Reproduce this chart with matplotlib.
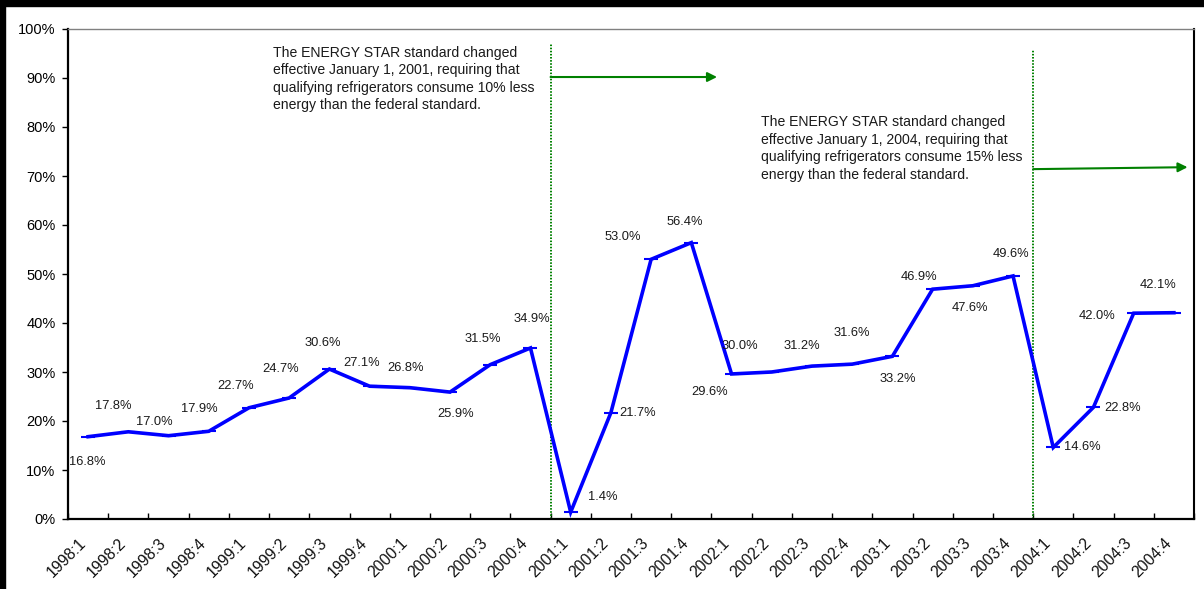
import matplotlib
matplotlib.use("Agg")
import matplotlib.pyplot as plt
from matplotlib.patches import Rectangle
from matplotlib.transforms import ScaledTranslation

plt.rcParams['font.family'] = ['Liberation Sans', 'DejaVu Sans']

quarters = ["1998:1", "1998:2", "1998:3", "1998:4",
            "1999:1", "1999:2", "1999:3", "1999:4",
            "2000:1", "2000:2", "2000:3", "2000:4",
            "2001:1", "2001:2", "2001:3", "2001:4",
            "2002:1", "2002:2", "2002:3", "2002:4",
            "2003:1", "2003:2", "2003:3", "2003:4",
            "2004:1", "2004:2", "2004:3", "2004:4"]
share = [16.8, 17.8, 17.0, 17.9,
         22.7, 24.7, 30.6, 27.1,
         26.8, 25.9, 31.5, 34.9,
         1.4, 21.7, 53.0, 56.4,
         29.6, 30.0, 31.2, 31.6,
         33.2, 46.9, 47.6, 49.6,
         14.6, 22.8, 42.0, 42.1]
note_2001 = ("The ENERGY STAR standard changed\n"
             "effective January 1, 2001, requiring that\n"
             "qualifying refrigerators consume 10% less\n"
             "energy than the federal standard.")
note_2004 = ("The ENERGY STAR standard changed\n"
             "effective January 1, 2004, requiring that\n"
             "qualifying refrigerators consume 15% less\n"
             "energy than the federal standard.")

# label offsets in pixels (dx right, dy down) relative to each point
label_offsets = [(-1, 25), (-15, -26), (-14, -14), (-9, -22),
                 (-13, -22), (-9, -29), (-7, -26), (-8, -23),
                 (-4, -20), (6, 22), (-7, -26), (1, -29),
                 (32, -15), (27, 0), (-28, -22), (-7, -21),
                 (-22, 18), (-32, -26), (-10, -20), (0, -31),
                 (5, 23), (-14, -12), (-3, 22), (-2, -22),
                 (29, 0), (29, 1), (-37, 3), (-16, -28)]

fig = plt.figure(figsize=(12.04, 5.89), dpi=100)
ax = fig.add_axes([68/1204, 1 - 519/589, (1194 - 68)/1204, (519 - 29)/589])

x = list(range(len(quarters)))
blue = '#0000FF'
green = '#008000'
ax.plot(x, share, color=blue, lw=2.6, marker='_', ms=10, mew=1.5,
        solid_joinstyle='miter', zorder=3)

for xi, v, (dx, dy) in zip(x, share, label_offsets):
    ax.annotate(f"{v:.1f}%", (xi, v), xytext=(dx, -dy), textcoords='offset pixels',
                ha='center', va='center', fontsize=9.3, color='#1a1a1a')

ax.set_xlim(-0.5, len(quarters) - 0.5)
ax.set_ylim(0, 100)

# boundary ticks pointing inside, labels at category centres
ax.set_xticks([i - 0.5 for i in range(len(quarters) + 1)])
ax.set_xticklabels([])
ax.tick_params(axis='x', which='major', direction='in', length=4, width=1, color='black')
ax.set_xticks(x, minor=True)
ax.set_xticklabels(quarters, minor=True, rotation=45, ha='right', va='top',
                   rotation_mode='anchor', fontsize=11.3, color='#111111')
ax.tick_params(axis='x', which='minor', length=0, pad=12)
for lab in ax.get_xticklabels(minor=True):
    lab.set_transform(lab.get_transform() + ScaledTranslation(-10/100, 0, fig.dpi_scale_trans))

ax.set_yticks(range(0, 101, 10))
ax.set_yticklabels([f"{t}%" for t in range(0, 101, 10)], fontsize=10.5)
ax.tick_params(axis='y', direction='out', length=4, width=1, pad=5)

for s in ['left', 'bottom']:
    ax.spines[s].set_linewidth(1.6)
    ax.spines[s].set_color('black')
ax.spines['top'].set_color('#808080')
ax.spines['top'].set_linewidth(1.0)
ax.spines['right'].set_color('black')
ax.spines['right'].set_linewidth(1.5)

# vertical standard-change lines
ax.plot([11.5, 11.5], [0, 97.1], color=green, lw=1.4, ls=(0, (0.8, 0.8)), zorder=2)
ax.plot([23.5, 23.5], [0, 95.7], color=green, lw=1.4, ls=(0, (0.8, 0.8)), zorder=2)

# arrows
ax.annotate("", xy=(15.64, 90.2), xytext=(11.5, 90.2),
            arrowprops=dict(arrowstyle='-|>', color=green, lw=1.5,
                            mutation_scale=14, shrinkA=0, shrinkB=0))
ax.annotate("", xy=(27.34, 71.8), xytext=(23.5, 71.4),
            arrowprops=dict(arrowstyle='-|>', color=green, lw=1.5,
                            mutation_scale=14, shrinkA=0, shrinkB=0))

ax.text(4.60, 96.6, note_2001, ha='left', va='top', fontsize=10.1,
        linespacing=1.32, color='#1a1a1a')
ax.text(16.74, 82.4, note_2004, ha='left', va='top', fontsize=10.1,
        linespacing=1.32, color='#1a1a1a')

# outer frame (left and top edges visible)
fig.patches.append(Rectangle((0, 0), 5/1204, 1, transform=fig.transFigure,
                             color='black', zorder=10))
fig.patches.append(Rectangle((0, 1 - 6/589), 1, 6/589, transform=fig.transFigure,
                             color='black', zorder=10))

fig.savefig("out.png", dpi=100)
